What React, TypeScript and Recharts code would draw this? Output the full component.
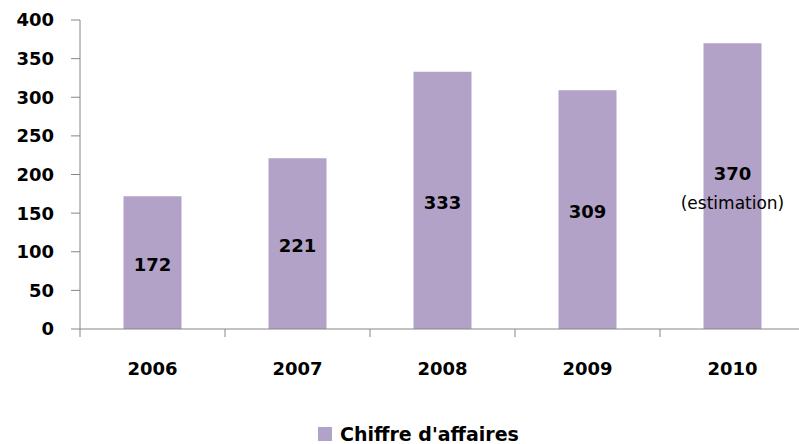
import { BarChart, Bar, XAxis, YAxis, Legend, LabelList } from "recharts";

const YEARS = ["2006", "2007", "2008", "2009", "2010"];
const REVENUE = [172, 221, 333, 309, 370];
const NOTES = ["", "", "", "", "(estimation)"];
const Y_TICKS = [0, 50, 100, 150, 200, 250, 300, 350, 400];
const SERIES_NAME = "Chiffre d'affaires";

const data = YEARS.map((year, i) => ({ year, revenue: REVENUE[i] }));

const W = 806;
const H = 444;
const Y_AXIS_W = 80;
const MARGIN = { top: 20, right: 1, left: 0, bottom: 0 };
const PLOT_W = W - MARGIN.left - MARGIN.right - Y_AXIS_W;
const X_TICK_SIZE = 8;
const X_TICK_MARGIN = 25;
const AXIS = "#868686";
const BAR = "#B3A2C7";
const FONT = "'DejaVu Sans', sans-serif";

// Excel-style category axis: tick marks sit between categories, labels in the middle
function XTick(props: any) {
  const { x, y, payload, index } = props;
  const band = PLOT_W / YEARS.length;
  const y0 = y - X_TICK_MARGIN - X_TICK_SIZE;
  const edges = [x - band / 2];
  if (index === YEARS.length - 1) edges.push(x + band / 2);
  return (
    <g>
      {edges.map((ex, i) => (
        <line key={i} x1={ex} x2={ex} y1={y0} y2={y0 + X_TICK_SIZE} stroke={AXIS} />
      ))}
      <text
        x={x}
        y={y}
        dy="0.71em"
        textAnchor="middle"
        fill="#000"
        fontFamily={FONT}
        fontSize={18}
        fontWeight="bold"
      >
        {payload.value}
      </text>
    </g>
  );
}

function BarLabel(props: any) {
  const { x, y, width, height, value, index } = props;
  const cx = x + width / 2;
  const cy = y + height / 2;
  const note = NOTES[index];
  return (
    <g fontFamily={FONT} fill="#000">
      <text
        x={cx}
        y={note ? cy - 13 : cy + 2}
        textAnchor="middle"
        dominantBaseline="central"
        fontSize={18}
        fontWeight="bold"
      >
        {value}
      </text>
      {note && (
        <text x={cx} y={cy + 17} textAnchor="middle" dominantBaseline="central" fontSize={17}>
          {note}
        </text>
      )}
    </g>
  );
}

function LegendBox() {
  return (
    <div
      style={{
        height: 28,
        display: "flex",
        alignItems: "flex-end",
        justifyContent: "center",
        paddingLeft: 32,
      }}
    >
      <span style={{ display: "flex", alignItems: "center", height: 20 }}>
        <span style={{ width: 14, height: 14, background: BAR, marginRight: 8 }} />
        <span style={{ fontFamily: FONT, fontSize: 19, fontWeight: "bold", color: "#000" }}>
          {SERIES_NAME}
        </span>
      </span>
    </div>
  );
}

export default function App() {
  return (
    <div style={{ width: W, height: H, background: "#fff" }}>
      <style>{"body{margin:0;overflow:hidden;background:#fff}"}</style>
      <BarChart width={W} height={H} data={data} margin={MARGIN} barCategoryGap="30%">
        <XAxis
          dataKey="year"
          interval={0}
          height={87}
          stroke={AXIS}
          tickLine={false}
          tickSize={X_TICK_SIZE}
          tickMargin={X_TICK_MARGIN}
          tick={<XTick />}
        />
        <YAxis
          width={Y_AXIS_W}
          domain={[0, 400]}
          ticks={Y_TICKS}
          interval={0}
          stroke={AXIS}
          tickSize={9}
          tickMargin={17}
          tick={{ fill: "#000", fontSize: 18, fontWeight: "bold", fontFamily: FONT }}
        />
        <Legend verticalAlign="bottom" height={28} content={() => <LegendBox />} />
        <Bar dataKey="revenue" name={SERIES_NAME} fill={BAR} isAnimationActive={false}>
          <LabelList dataKey="revenue" content={<BarLabel />} />
        </Bar>
      </BarChart>
    </div>
  );
}
